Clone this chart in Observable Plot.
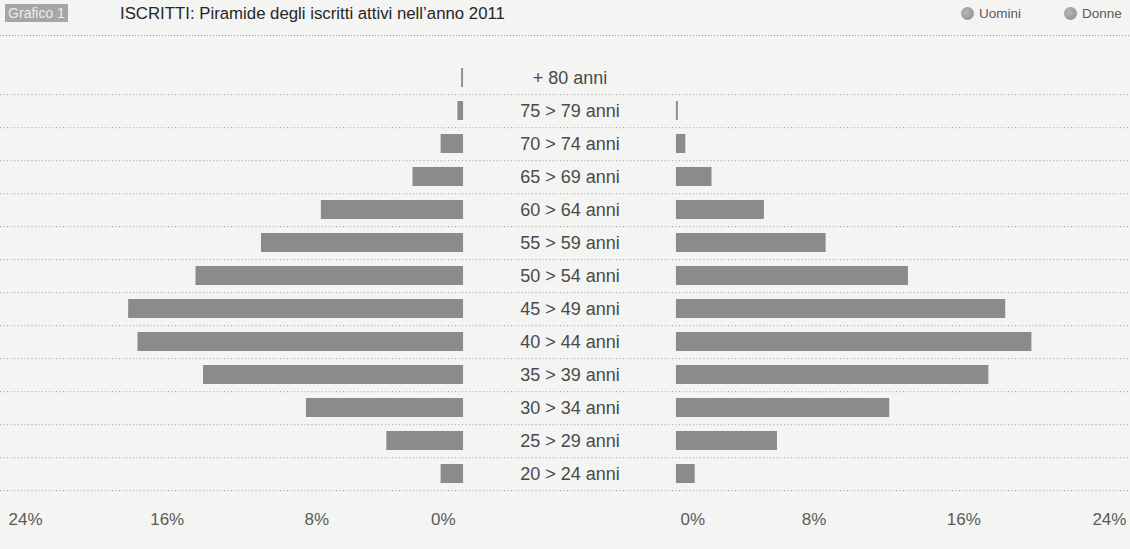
<!DOCTYPE html>
<html>
<head>
<meta charset="utf-8">
<script src="https://cdn.jsdelivr.net/npm/d3@7"></script>
<script src="https://cdn.jsdelivr.net/npm/@observablehq/plot@0.6"></script>
<style>
  html, body { margin: 0; padding: 0; background: #f4f4f3; }
  body { width: 1130px; height: 549px; overflow: hidden; font-family: "Liberation Sans", Arial, sans-serif; }
  #head { position: relative; height: 36px; }
  #badge { position: absolute; left: 5px; top: 4px; width: 63px; height: 18px; background: #a6a6a6;
           color: #ececec; font-size: 14px; line-height: 18px; text-align: center; }
  #title { position: absolute; left: 120px; top: 4px; font-size: 16.8px; color: #262626; }
  .leg { position: absolute; top: 7px; font-size: 13.5px; color: #5a5a5a; line-height: 14px; }
  .leg i { display: inline-block; width: 13px; height: 13px; border-radius: 50%; vertical-align: -2px; margin-right: 5px;
           background: radial-gradient(circle at 40% 40%, #b8b8b8, #888); }
  #dots { position: absolute; left: 0; right: 0; bottom: 0; height: 1px;
          background: repeating-linear-gradient(to right, #9a9a9a 0 1px, transparent 1px 3px); }
  svg { display: block; }
</style>
</head>
<body>
<div id="head">
  <div id="badge">Grafico 1</div>
  <div id="title">ISCRITTI: Piramide degli iscritti attivi nell’anno 2011</div>
  <div class="leg" style="left:961px"><i></i>Uomini</div>
  <div class="leg" style="left:1064px"><i></i>Donne</div>
  <div id="dots"></div>
</div>
<div id="chart"></div>
<script>
// Age classes, top to bottom
const ages = ["+ 80 anni", "75 > 79 anni", "70 > 74 anni", "65 > 69 anni", "60 > 64 anni",
              "55 > 59 anni", "50 > 54 anni", "45 > 49 anni", "40 > 44 anni", "35 > 39 anni",
              "30 > 34 anni", "25 > 29 anni", "20 > 24 anni"];
// Share of active members per age class (%)
const uomini = [0.1, 0.3, 1.2, 2.7, 7.6, 10.8, 14.3, 17.9, 17.4, 13.9, 8.4, 4.1, 1.2];
const donne  = [0.0, 0.1, 0.5, 1.9, 4.7, 8.0, 12.4, 17.6, 19.0, 16.7, 11.4, 5.4, 1.0];
// Axis tick values (%)
const ticks = [0, 8, 16, 24];

const rows = ages.map((age, i) => ({age, uomini: uomini[i], donne: donne[i]}));

// Both halves share one linear scale; each half is shifted away from the centre by GAP
const GAP = 5.69;
const W = 1130, H = 513, MT = 22, MB = 57;
const step = (H - MT - MB) / ages.length;
const fmt = d => Math.round(Math.abs(d) - GAP) + "%";
const leftTicks = ticks.map(t => -GAP - t);
const rightTicks = ticks.map(t => GAP + t);
const axisFont = {fontSize: 17, fill: "#5a5a5a", tickSize: 0, tickPadding: 20, tickFormat: fmt};
const barColor = "#8b8b8b";

const chart = Plot.plot({
  width: W, height: H,
  marginLeft: 0, marginRight: 0, marginTop: MT, marginBottom: MB,
  style: {background: "transparent", fontFamily: "'Liberation Sans', Arial, sans-serif"},
  x: {domain: [-30.44, 29.96], axis: null},
  y: {domain: ages, type: "band", padding: 0, axis: null},
  marks: [
    Plot.ruleY(ages, {y: d => d, dy: step / 2, stroke: "#9a9a9a", strokeDasharray: "1,2.5"}),
    Plot.barX(rows, {y: "age", x1: -GAP, x2: d => -GAP - d.uomini, fill: barColor, insetTop: 7, insetBottom: 7}),
    Plot.barX(rows, {y: "age", x1: GAP, x2: d => GAP + d.donne, fill: barColor, insetTop: 7, insetBottom: 7}),
    Plot.text(ages, {x: 0, y: d => d, text: d => d, fontSize: 18, fill: "#4a4a4a"}),
    Plot.axisX({...axisFont, ticks: [leftTicks[3]], textAnchor: "start", dx: -6}),
    Plot.axisX({...axisFont, ticks: [leftTicks[1], leftTicks[2]], textAnchor: "middle", dx: 3}),
    Plot.axisX({...axisFont, ticks: [leftTicks[0]], textAnchor: "end", dx: -8}),
    Plot.axisX({...axisFont, ticks: [rightTicks[0]], textAnchor: "start", dx: 4}),
    Plot.axisX({...axisFont, ticks: [rightTicks[1], rightTicks[2]], textAnchor: "middle", dx: -12}),
    Plot.axisX({...axisFont, ticks: [rightTicks[3]], textAnchor: "end", dx: 1})
  ]
});
document.getElementById("chart").append(chart);
</script>
</body>
</html>
